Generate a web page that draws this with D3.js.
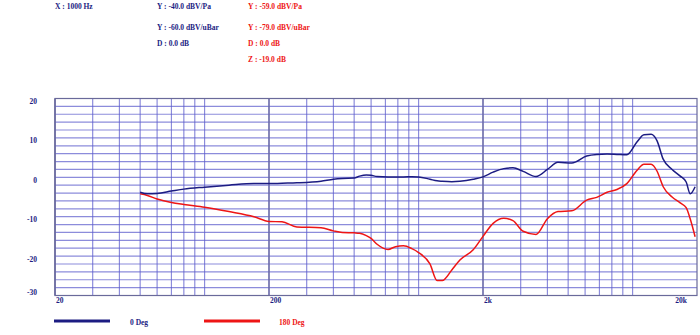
<!DOCTYPE html>
<html><head><meta charset="utf-8">
<script src="https://cdn.jsdelivr.net/npm/d3@7"></script>
<style>body{margin:0;background:#fff}svg{display:block}text{font-family:"Liberation Serif","DejaVu Serif",serif;font-weight:bold}</style>
</head><body><svg id="c" width="700" height="335"></svg>
<script>
const freqs = [50,54,60,70,80,100,130,170,200,230,270,350,400,440,500,530,570,600,640,720,780,850,930,1000,1130,1220,1290,1430,1560,1800,2000,2230,2500,2760,3080,3540,4000,4480,5200,6100,6800,7600,8450,9400,10500,11300,12200,13000,13900,15300,16700,17800,18600,19600];
const deg0 = [-3.8,-4.2,-4.1,-3.5,-3.0,-2.5,-2.0,-1.6,-1.6,-1.5,-1.4,-1.0,-0.5,-0.3,-0.2,0.3,0.6,0.5,0.2,0.1,0.1,0.1,0.15,0.1,-0.5,-0.9,-1.0,-1.1,-1.0,-0.5,0.1,1.3,2.2,2.4,1.5,0.2,2.0,3.8,3.6,5.4,5.8,5.9,5.8,5.7,9.0,10.8,10.9,9.3,4.6,2.0,0.3,-1.2,-4.2,-2.4];
const deg180 = [-4.2,-4.6,-5.5,-6.4,-6.9,-7.6,-8.7,-10.0,-11.2,-11.3,-12.6,-12.8,-13.6,-14.0,-14.1,-14.2,-14.8,-15.5,-17.0,-18.3,-17.6,-17.4,-18.1,-19.1,-22.0,-26.2,-26.2,-23.5,-21.0,-18.4,-15.0,-11.7,-10.4,-11.0,-13.7,-14.5,-10.5,-8.7,-8.5,-5.8,-5.1,-3.8,-3.1,-1.6,1.8,3.3,3.3,1.6,-2.4,-5.0,-6.5,-7.7,-10.6,-15.1];
const seriesNames = ["0 Deg","180 Deg"];
const xTickValues = [20,200,2000,20000];
const xTickLabels = ["20","200","2k","20k"];
const yTickValues = [20,10,0,-10,-20,-30];
const headerBlue = ["Y : -40.0 dBV/Pa","Y : -60.0 dBV/uBar","D : 0.0 dB"];
const headerRed = ["Y : -59.0 dBV/Pa","Y : -79.0 dBV/uBar","D : 0.0 dB","Z : -19.0 dB"];
const headerX = "X : 1000 Hz";

const navy = "#1c1c82", red = "#ee1515", gridC = "#5b5bcc";
const svg = d3.select("#c");
const L=55,R=697,T=98.5,B=295.5;
const x = d3.scaleLog().domain([20,20000]).range([L,R]);
const y = d3.scaleLinear().domain([-30,20]).range([B,T]);

// horizontal grid every 2 dB
const hs = d3.range(-30,20.1,2);
svg.append("g").selectAll("line").data(hs).join("line")
  .attr("x1",L).attr("x2",R).attr("y1",d=>y(d)).attr("y2",d=>y(d))
  .attr("stroke",gridC).attr("stroke-opacity",0.7).attr("stroke-width",1.2);
// vertical grid
const vgrid=[];
[20,200,2000].forEach(b=>{
  vgrid.push({f:b,dec:true});
  [1.5,2,2.5,3,3.5,4,4.5,5].forEach(m=>vgrid.push({f:b*m,dec:false}));
});
svg.append("g").selectAll("line").data(vgrid).join("line")
  .attr("x1",d=>x(d.f)).attr("x2",d=>x(d.f)).attr("y1",T).attr("y2",B)
  .attr("stroke",d=>d.dec?"#6a6aa8":gridC).attr("stroke-opacity",d=>d.dec?0.9:0.7)
  .attr("stroke-width",d=>d.dec?1.8:1.2);
svg.append("rect").attr("x",L).attr("y",T).attr("width",R-L).attr("height",B-T)
  .attr("fill","none").attr("stroke","#6a6a9a").attr("stroke-width",1.2);

// curves
const line = d3.line().x((d,i)=>x(freqs[i])).y(d=>y(d)).curve(d3.curveMonotoneX);
svg.append("path").datum(deg180).attr("d",line).attr("fill","none").attr("stroke",red).attr("stroke-width",1.5);
svg.append("path").datum(deg0).attr("d",line).attr("fill","none").attr("stroke",navy).attr("stroke-width",1.5);

// y labels
svg.append("g").selectAll("text").data(yTickValues).join("text")
  .attr("x",37).attr("y",d=>Math.min(y(d)+5.5,B-0.5)).attr("text-anchor","end")
  .attr("font-size",7.5).attr("fill",navy).text(d=>d);
// x labels
svg.append("g").selectAll("text").data(xTickValues).join("text")
  .attr("x",(d,i)=>i===xTickValues.length-1?x(d)-10:x(d)+1).attr("y",303)
  .attr("text-anchor",(d,i)=>i===xTickValues.length-1?"end":"start")
  .attr("font-size",7.5).attr("fill",navy).text((d,i)=>xTickLabels[i]);

// header
svg.append("text").attr("x",55).attr("y",9).attr("font-size",7.5).attr("fill",navy).text(headerX);
const rowsY=[9,29.5,46,62];
svg.append("g").selectAll("text").data(headerBlue).join("text")
  .attr("x",157).attr("y",(d,i)=>rowsY[i]).attr("font-size",7.5).attr("fill",navy).text(d=>d);
svg.append("g").selectAll("text").data(headerRed).join("text")
  .attr("x",248).attr("y",(d,i)=>rowsY[i]).attr("font-size",7.5).attr("fill",red).text(d=>d);

// legend
const legX=[54,204], legTx=[130,279], cols=[navy,red];
seriesNames.forEach((n,i)=>{
  svg.append("line").attr("x1",legX[i]).attr("x2",legX[i]+56).attr("y1",321).attr("y2",321)
    .attr("stroke",cols[i]).attr("stroke-width",3);
  svg.append("text").attr("x",legTx[i]).attr("y",324.5).attr("font-size",7.5).attr("fill",cols[i]).text(n);
});
</script></body></html>
